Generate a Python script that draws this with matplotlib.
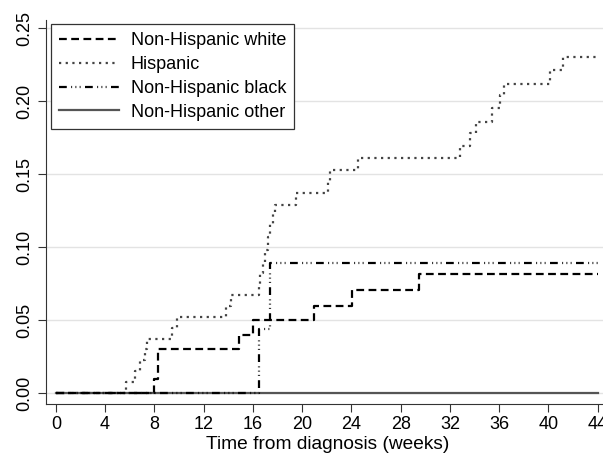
import numpy as np
import matplotlib
matplotlib.use("Agg")
import matplotlib.pyplot as plt

plt.rcParams['font.family'] = ['Liberation Sans', 'DejaVu Sans']

# step times (weeks) and cumulative incidence after each step
white_t = [0, 8.0, 8.3, 14.9, 16.0, 21.0, 24.05, 29.5, 44]
white_y = [0, 0.010, 0.030, 0.040, 0.050, 0.060, 0.0707, 0.0814, 0.0814]

hisp_t = [0, 5.7, 6.4, 6.8, 7.2, 7.4, 9.4, 9.8, 13.8, 14.2, 16.5, 16.6, 16.8, 17.0,
          17.2, 17.4, 17.6, 17.8, 19.5, 22.1, 22.3, 24.5, 32.8, 33.6, 34.1, 35.4,
          36.1, 36.4, 40.1, 41.2, 43.9]
hisp_y = [0, 0.0075, 0.015, 0.0225, 0.030, 0.0375, 0.045, 0.0525, 0.060, 0.0675,
          0.075, 0.0825, 0.089, 0.098, 0.107, 0.116, 0.1225, 0.129, 0.137, 0.145,
          0.153, 0.161, 0.169, 0.178, 0.186, 0.195, 0.204, 0.212, 0.221, 0.230, 0.230]

black_t = [0, 16.5, 17.4, 44]
black_y = [0, 0.044, 0.089, 0.089]

other_t = [0, 44]
other_y = [0, 0]

labels = ["Non-Hispanic white", "Hispanic", "Non-Hispanic black", "Non-Hispanic other"]
xticks = np.arange(0, 45, 4)
yticks = [0.00, 0.05, 0.10, 0.15, 0.20, 0.25]

fig = plt.figure(figsize=(6.03, 4.54), dpi=100)
ax = fig.add_axes([46/603, 50/454, 564/603, 384/454])

lw = 1.6
ax.plot(white_t, white_y, drawstyle='steps-post', color='black', lw=lw,
        linestyle=(0, (3.5, 2)), label=labels[0], zorder=4)
ax.plot(hisp_t, hisp_y, drawstyle='steps-post', color='#444444', lw=lw,
        linestyle=(0, (1, 2)), label=labels[1], zorder=3)
ax.plot(black_t, black_y, drawstyle='steps-post', color='black', lw=lw,
        linestyle=(0, (3.5, 2, 0.4, 1.5, 0.4, 1.5, 0.4, 2)), label=labels[2], zorder=4)
ax.plot(other_t, other_y, drawstyle='steps-post', color='#555555', lw=lw,
        linestyle='-', label=labels[3], zorder=2)

ax.set_xlim(-0.8, 45)
ax.set_ylim(-0.0073, 0.2555)
ax.set_xticks(xticks)
ax.set_yticks(yticks)
ax.set_yticklabels(["%.2f" % v for v in yticks], rotation=90, va='center')
ax.tick_params(labelsize=13, length=5.5, color='#333333')
ax.tick_params(axis='x', pad=3)
ax.grid(axis='y', color='#e3e3e3', lw=1)
ax.set_axisbelow(True)
for s in ['top', 'right']:
    ax.spines[s].set_visible(False)
for s in ['left', 'bottom']:
    ax.spines[s].set_color('#333333')
ax.set_xlabel("Time from diagnosis (weeks)", fontsize=13.8, labelpad=2.5)

leg = ax.legend(loc='upper left', bbox_to_anchor=(5/564, 1 - 4/384), borderaxespad=0,
                fontsize=13, handlelength=3.3, handletextpad=0.66, labelspacing=0.38,
                fancybox=False, edgecolor='#333333', framealpha=1, borderpad=0.45)
leg.get_frame().set_linewidth(0.9)

fig.savefig("out.png", dpi=100)
